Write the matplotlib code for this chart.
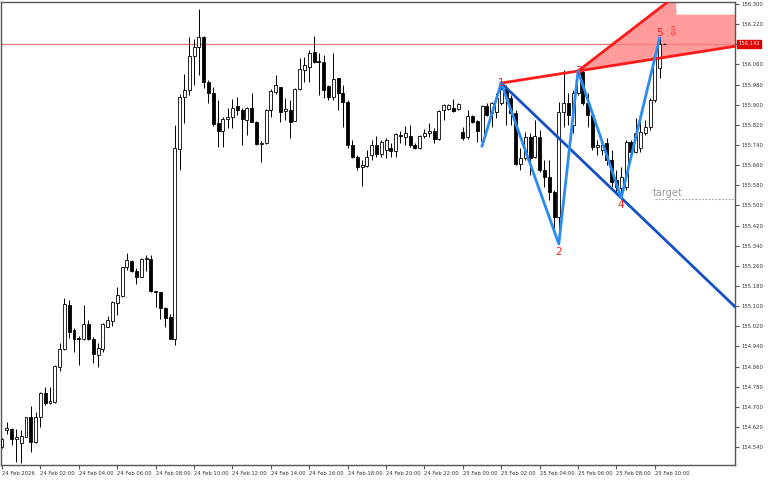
import numpy as np
import matplotlib
matplotlib.use("Agg")
import matplotlib.pyplot as plt
import matplotlib.transforms as mtransforms

# 15 minute candles, 24 Feb 00:00 .. 25 Feb 10:30
opens = [154.540, 154.608, 154.612, 154.572, 154.556, 154.580, 154.659, 154.560, 154.659, 154.755,
         154.715, 154.719, 154.858, 154.930, 155.104, 155.005, 154.973, 154.969, 155.029, 154.969,
         154.906, 154.930, 155.017, 155.041, 155.112, 155.140, 155.255, 155.279, 155.240, 155.216,
         155.287, 155.287, 155.160, 155.156, 155.093, 155.057, 154.969, 155.724, 155.931, 155.959,
         156.094, 156.129, 156.169, 155.990, 155.947, 155.827, 155.796, 155.843, 155.851, 155.895,
         155.879, 155.839, 155.887, 155.831, 155.744, 155.748, 155.879, 155.951, 155.970, 155.875,
         155.879, 155.835, 155.962, 156.038, 156.050, 156.109, 156.074, 156.070, 155.974, 155.931,
         156.006, 155.947, 155.911, 155.740, 155.692, 155.653, 155.657, 155.700, 155.740, 155.704,
         155.720, 155.728, 155.716, 155.780, 155.772, 155.776, 155.740, 155.728, 155.776, 155.788,
         155.796, 155.764, 155.879, 155.883, 155.887, 155.883, 155.792, 155.772, 155.855, 155.835,
         155.756, 155.895, 155.867, 155.871, 155.907, 155.962, 155.927, 155.867, 155.665, 155.688,
         155.772, 155.692, 155.772, 155.641, 155.613, 155.554, 155.454, 155.871, 155.907, 155.820,
         155.947, 156.030, 155.907, 155.859, 155.732, 155.720, 155.748, 155.680, 155.601, 155.569,
         155.573, 155.752, 155.712, 155.728, 155.788, 155.812, 155.919, 156.046, 156.142]
highs = [154.576, 154.640, 154.616, 154.612, 154.608, 154.659, 154.703, 154.679, 154.759, 154.779,
         154.779, 154.866, 154.953, 155.132, 155.124, 155.013, 154.981, 155.104, 155.045, 154.977,
         154.953, 155.033, 155.061, 155.120, 155.176, 155.255, 155.311, 155.283, 155.252, 155.291,
         155.303, 155.303, 155.160, 155.156, 155.097, 155.069, 155.820, 155.942, 156.022, 156.169,
         156.161, 156.280, 156.173, 155.998, 155.970, 155.919, 155.851, 155.887, 155.923, 155.931,
         155.887, 155.891, 155.947, 155.835, 155.756, 155.883, 155.962, 156.018, 155.970, 155.927,
         155.919, 155.966, 156.086, 156.090, 156.117, 156.173, 156.105, 156.098, 155.978, 156.105,
         156.006, 155.978, 155.919, 155.760, 155.700, 155.680, 155.720, 155.760, 155.776, 155.760,
         155.768, 155.748, 155.788, 155.796, 155.816, 155.820, 155.748, 155.780, 155.804, 155.827,
         155.808, 155.879, 155.903, 155.903, 155.923, 155.907, 155.812, 155.879, 155.859, 155.839,
         155.899, 155.907, 155.911, 155.947, 155.986, 155.978, 155.939, 155.879, 155.728, 155.792,
         155.788, 155.839, 155.800, 155.680, 155.680, 155.561, 155.911, 156.038, 155.947, 155.959,
         156.038, 156.038, 155.947, 155.867, 155.760, 155.760, 155.768, 155.720, 155.641, 155.653,
         155.760, 155.760, 155.847, 155.831, 155.839, 155.927, 156.098, 156.169, 156.144]
lows = [154.536, 154.592, 154.548, 154.481, 154.477, 154.580, 154.521, 154.556, 154.620, 154.707,
        154.711, 154.715, 154.842, 154.926, 154.973, 154.918, 154.866, 154.965, 154.965, 154.874,
        154.858, 154.918, 155.017, 155.021, 155.065, 155.136, 155.244, 155.236, 155.188, 155.216,
        155.240, 155.156, 155.097, 155.049, 155.017, 154.969, 154.946, 155.641, 155.828, 155.939,
        155.978, 156.018, 155.966, 155.907, 155.816, 155.732, 155.732, 155.808, 155.808, 155.859,
        155.740, 155.780, 155.831, 155.740, 155.673, 155.744, 155.851, 155.943, 155.831, 155.839,
        155.768, 155.835, 155.959, 155.990, 155.990, 156.066, 155.939, 155.927, 155.919, 155.919,
        155.879, 155.812, 155.728, 155.688, 155.641, 155.577, 155.653, 155.680, 155.692, 155.692,
        155.688, 155.692, 155.692, 155.748, 155.740, 155.732, 155.724, 155.724, 155.768, 155.772,
        155.748, 155.760, 155.839, 155.879, 155.871, 155.879, 155.760, 155.764, 155.827, 155.752,
        155.736, 155.855, 155.812, 155.847, 155.899, 155.820, 155.820, 155.661, 155.641, 155.680,
        155.621, 155.688, 155.633, 155.573, 155.522, 155.395, 155.347, 155.812, 155.820, 155.788,
        155.939, 155.899, 155.812, 155.720, 155.700, 155.700, 155.661, 155.573, 155.550, 155.530,
        155.561, 155.708, 155.708, 155.712, 155.780, 155.800, 155.911, 156.006, 156.140]
closes = [154.572, 154.616, 154.572, 154.580, 154.584, 154.659, 154.560, 154.659, 154.755, 154.715,
          154.723, 154.862, 154.930, 155.108, 154.997, 154.969, 154.970, 155.029, 154.969, 154.910,
          154.934, 155.029, 155.045, 155.116, 155.144, 155.255, 155.283, 155.240, 155.216, 155.287,
          155.291, 155.160, 155.156, 155.093, 155.053, 154.969, 155.728, 155.931, 155.959, 156.094,
          156.129, 156.169, 155.990, 155.947, 155.823, 155.796, 155.843, 155.851, 155.887, 155.879,
          155.843, 155.887, 155.831, 155.744, 155.748, 155.879, 155.955, 155.978, 155.871, 155.883,
          155.831, 155.962, 156.042, 156.058, 156.105, 156.070, 156.070, 155.959, 155.931, 156.002,
          155.947, 155.911, 155.740, 155.692, 155.653, 155.661, 155.692, 155.740, 155.704, 155.752,
          155.760, 155.716, 155.784, 155.776, 155.788, 155.740, 155.728, 155.776, 155.788, 155.796,
          155.764, 155.875, 155.899, 155.899, 155.875, 155.903, 155.768, 155.855, 155.831, 155.796,
          155.895, 155.859, 155.907, 155.927, 155.962, 155.927, 155.867, 155.665, 155.688, 155.772,
          155.688, 155.776, 155.641, 155.613, 155.554, 155.454, 155.871, 155.907, 155.859, 155.947,
          156.030, 155.907, 155.859, 155.732, 155.740, 155.740, 155.680, 155.593, 155.573, 155.613,
          155.752, 155.712, 155.788, 155.792, 155.812, 155.919, 156.090, 156.142, 156.142]

time_labels = ["24 Feb 2026", "24 Feb 02:00", "24 Feb 04:00", "24 Feb 06:00", "24 Feb 08:00",
               "24 Feb 10:00", "24 Feb 12:00", "24 Feb 14:00", "24 Feb 16:00", "24 Feb 18:00",
               "24 Feb 20:00", "24 Feb 22:00", "25 Feb 00:00", "25 Feb 02:00", "25 Feb 04:00",
               "25 Feb 06:00", "25 Feb 08:00", "25 Feb 10:00"]
bars_per_label = 8

# wave pattern: start, 1, 2, 3, 4, 5  (bar index, price)
wave_idx = [100, 104, 116, 120, 129, 137]
wave_px = [155.736, 155.986, 155.347, 156.034, 155.530, 156.165]
wave_names = ["", "1", "2", "3", "4", "5"]
bid = 156.142
target = 155.525
zone_upper = [(120, 156.034), (139.2, 156.316)]
zone_cap_idx = 140.4
zone_cap_px = 156.26

fig = plt.figure(figsize=(7.68, 4.8), dpi=100)
ax = fig.add_axes([1 / 768, 15 / 480, 734 / 768, 463 / 480])
xmin, xmax = -0.21, 152.7
ax.set_xlim(xmin, xmax)
ax.set_ylim(154.469, 156.308)

x = np.arange(len(opens))
o = np.array(opens); c = np.array(closes)
ax.vlines(x, lows, highs, color="black", lw=0.7, zorder=3)
face = ["white" if cc >= oo else "black" for oo, cc in zip(o, c)]
ax.bar(x, c - o, bottom=o, width=0.62, color=face, edgecolor="black", lw=0.6, zorder=4)

# bid line
ax.axhline(bid, color="#f08080", lw=1, zorder=2)

# red zone
p1 = (wave_idx[1], wave_px[1]); p3 = (wave_idx[3], wave_px[3])
k_low = (p3[1] - p1[1]) / (p3[0] - p1[0])
k_up = (zone_upper[1][1] - zone_upper[0][1]) / (zone_upper[1][0] - zone_upper[0][0])
xs = np.linspace(p3[0], xmax, 400)
low_line = p3[1] + k_low * (xs - p3[0])
up_line = p3[1] + k_up * (xs - p3[0])
cap = np.where(xs < zone_cap_idx, 157.0, zone_cap_px)
ax.fill_between(xs, low_line, np.minimum(up_line, cap), color="#ff9b9b", lw=0, zorder=1)
ax.plot([p1[0], xmax + 5], [p1[1], p1[1] + k_low * (xmax + 5 - p1[0])], color="#ff1a1a", lw=2, zorder=6)
ax.plot([p3[0], xmax], [p3[1], p3[1] + k_up * (xmax - p3[0])], color="#ff1a1a", lw=2, zorder=6)

# trend line through 1 and 4
p4 = (wave_idx[4], wave_px[4])
k_tr = (p4[1] - p1[1]) / (p4[0] - p1[0])
ax.plot([p1[0], xmax + 5], [p1[1], p1[1] + k_tr * (xmax + 5 - p1[0])], color="#1450c8", lw=2, zorder=5)

# zigzag
ax.plot(wave_idx, wave_px, color="#2a8cf0", lw=2, zorder=7)

lab_off = {1: 0.0, 2: -0.03, 3: 0.0, 4: -0.03, 5: 0.02}
for i in range(1, 6):
    ax.text(wave_idx[i], wave_px[i] + lab_off[i], wave_names[i], color="#ff2020", fontsize=7.5,
            ha="center", va="center", zorder=8)
ax.text(wave_idx[5] + 2.9, wave_px[5] + 0.02, "\u21e9", color="#ff3030", fontsize=9,
        ha="center", va="center", zorder=8)

# target
ax.plot([136, xmax], [target, target], color="#a0a0a0", lw=0.8, ls=(0, (1.5, 1.5)), zorder=2)
ax.text(135.6, target + 0.006, "target", color="#999999", fontsize=7, ha="left", va="bottom", zorder=8)

# axes styling
for s in ax.spines.values():
    s.set_color("#555555")
    s.set_linewidth(1)
ax.yaxis.tick_right()
yt = np.round(np.arange(154.54, 156.301, 0.08), 3)
ax.set_yticks(yt)
# the bid box sits over the 156.140 label
ax.set_yticklabels(["" if abs(v - bid) < 0.01 else f"{v:.3f}" for v in yt])
ax.set_xticks(np.arange(len(time_labels)) * bars_per_label)
ax.set_xticklabels(time_labels, ha="left")
ax.tick_params(axis="both", length=3, width=0.8, color="#555555", labelsize=3.8, pad=1.5,
               labelcolor="#333333")

tr = mtransforms.blended_transform_factory(ax.transAxes, ax.transData)
ax.text(1.004, bid, f"{bid:.3f}", transform=tr, color="white", fontsize=3.8, ha="left", va="center",
        bbox=dict(boxstyle="square,pad=0.25", fc="#e00000", ec="#e00000"), zorder=10, clip_on=False)

fig.savefig("out.png", dpi=100)
